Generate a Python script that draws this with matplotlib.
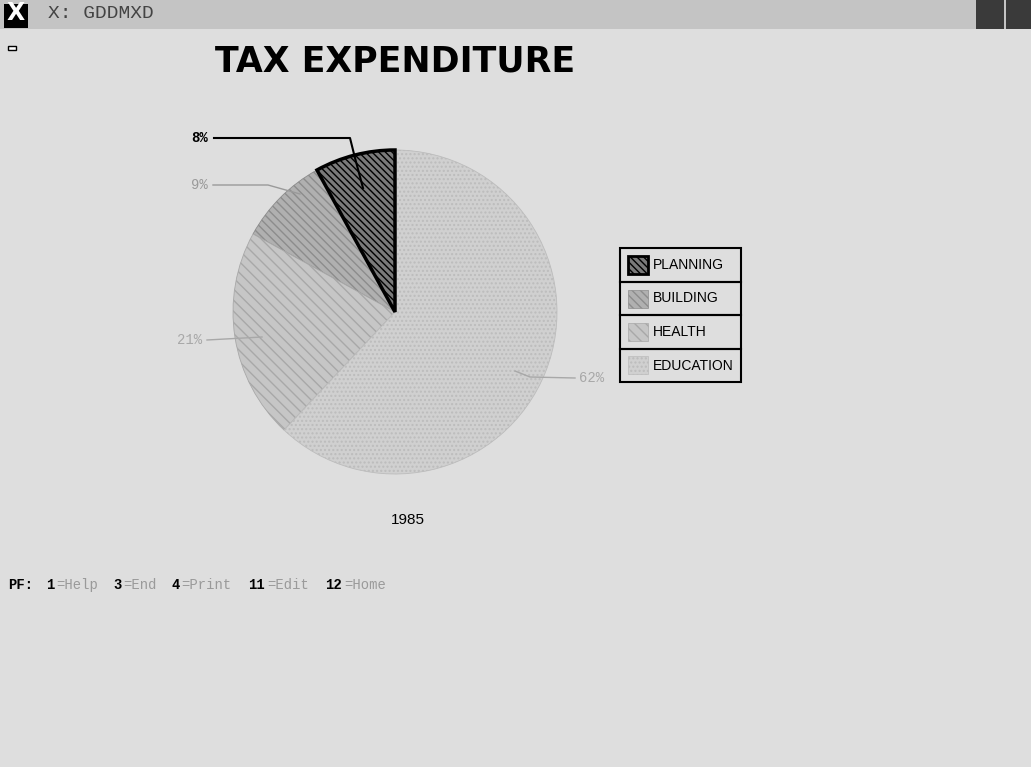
import matplotlib.pyplot as plt
from matplotlib.patches import Rectangle

# donnees du graphique
categories = ["PLANNING", "BUILDING", "HEALTH", "EDUCATION"]
valeurs = [8, 9, 21, 62]
annee = "1985"
titre = "TAX EXPENDITURE"
touches = [("1", "Help"), ("3", "End"), ("4", "Print"), ("11", "Edit"), ("12", "Home")]

W, H = 1031, 767
fig = plt.figure(figsize=(W / 100, H / 100), dpi=100)
fond = "#dedede"
fig.patch.set_facecolor(fond)


def fx(px):
    return px / W


def fy(py):
    return 1 - py / H


# barre de titre de la fenetre
fig.patches.append(Rectangle((0, fy(29)), 1, 29 / H, transform=fig.transFigure,
                             facecolor="#c4c4c4", edgecolor="none"))
fig.patches.append(Rectangle((fx(4), fy(28)), 24 / W, 24 / H, transform=fig.transFigure,
                             facecolor="black", edgecolor="none"))
fig.text(fx(16), fy(13), "X", color="white", fontsize=17, fontweight="bold",
         ha="center", va="center", family="DejaVu Sans")
fig.text(fx(48), fy(14), "X: GDDMXD", color="#444444", fontsize=14,
         ha="left", va="center", family="Liberation Mono")
fig.patches.append(Rectangle((fx(976), fy(29)), 28 / W, 29 / H, transform=fig.transFigure,
                             facecolor="#3a3a3a", edgecolor="none"))
fig.patches.append(Rectangle((fx(1006), fy(29)), 25 / W, 29 / H, transform=fig.transFigure,
                             facecolor="#3a3a3a", edgecolor="none"))
fig.patches.append(Rectangle((fx(8), fy(50)), 8 / W, 4 / H, transform=fig.transFigure,
                             facecolor="white", edgecolor="black", linewidth=1))

# titre
fig.text(fx(395), fy(62), titre, fontsize=25, fontweight="bold", ha="center",
         va="center", family="DejaVu Sans")

# camembert
cx, cy, r = 395, 312, 162
ax = fig.add_axes([fx(cx - r), fy(cy + r), 2 * r / W, 2 * r / H])
ax.set_aspect("equal")
couleurs = ["#7a7a7a", "#b0b0b0", "#c6c6c6", "#d0d0d0"]
hachures = ["\\\\\\\\\\", "\\\\\\\\", "\\\\\\", "...."]
bords = ["black", "#8c8c8c", "#a8a8a8", "#bcbcbc"]
parts, _ = ax.pie(valeurs, startangle=90, counterclock=True, colors=couleurs,
                  radius=1, wedgeprops=dict(linewidth=0.6))
for w, h, b in zip(parts, hachures, bords):
    w.set_hatch(h)
    w.set_edgecolor(b)
parts[0].set_linewidth(2.5)
parts[0].set_edgecolor("black")
parts[0].set_zorder(5)
ax.set_xlim(-1, 1)
ax.set_ylim(-1, 1)
ax.axis("off")


def d(px, py):
    return ((px - cx) / r, (cy - py) / r)


# etiquettes et traits de rappel
total = sum(valeurs)
pct = [f"{round(100 * v / total)}%" for v in valeurs]
reperes = [
    (d(200, 138), [d(214, 138), d(350, 138), d(355, 158), d(363, 188)], "black", "bold"),
    (d(199, 185), [d(213, 185), d(268, 185), d(300, 194)], "#9a9a9a", "normal"),
    (d(190, 340), [d(207, 340), d(262, 337)], "#a8a8a8", "normal"),
    (d(592, 378), [d(575, 378), d(530, 377), d(515, 371)], "#a8a8a8", "normal"),
]
for (pos, ligne, coul, poids), txt in zip(reperes, pct):
    xs = [p[0] for p in ligne]
    ys = [p[1] for p in ligne]
    ax.plot(xs, ys, color=coul, linewidth=1.5 if poids == "bold" else 1,
            clip_on=False, zorder=6)
    ax.text(pos[0], pos[1], txt, color=coul, fontsize=10, fontweight=poids,
            ha="center", va="center", clip_on=False, family="Liberation Mono")

# legende
lx0, ly0, lw, lh = 620, 248, 121, 33.5
for i, (cat, c, h, b) in enumerate(zip(categories, couleurs, hachures, bords)):
    y_haut = ly0 + i * lh
    fig.patches.append(Rectangle((fx(lx0), fy(y_haut + lh)), lw / W, lh / H,
                                 transform=fig.transFigure, facecolor="none",
                                 edgecolor="black", linewidth=1.5))
    fig.patches.append(Rectangle((fx(lx0 + 8), fy(y_haut + 26)), 20 / W, 18 / H,
                                 transform=fig.transFigure, facecolor=c, hatch=h,
                                 edgecolor="black" if i == 0 else b,
                                 linewidth=2 if i == 0 else 0.5))
    fig.text(fx(lx0 + 33), fy(y_haut + 17), cat, fontsize=10, ha="left",
             va="center", family="Liberation Sans")

# annee
fig.text(fx(408), fy(520), annee, fontsize=11, ha="center", va="center",
         family="Liberation Sans")

# touches de fonction (police a chasse fixe, ~9.6 px par caractere)
pas = 9.6
x0 = 8
fig.text(fx(x0), fy(585), "PF:", fontsize=10, ha="left", va="center",
         family="Liberation Mono", fontweight="bold")
col = 4
for num, nom in touches:
    fig.text(fx(x0 + col * pas), fy(585), num, fontsize=10, ha="left", va="center",
             family="Liberation Mono", fontweight="bold")
    col += len(num)
    fig.text(fx(x0 + col * pas), fy(585), "=" + nom, fontsize=10, ha="left",
             va="center", color="#9a9a9a", family="Liberation Mono")
    col += len(nom) + 2

fig.savefig("out.png", dpi=100, facecolor=fond)
